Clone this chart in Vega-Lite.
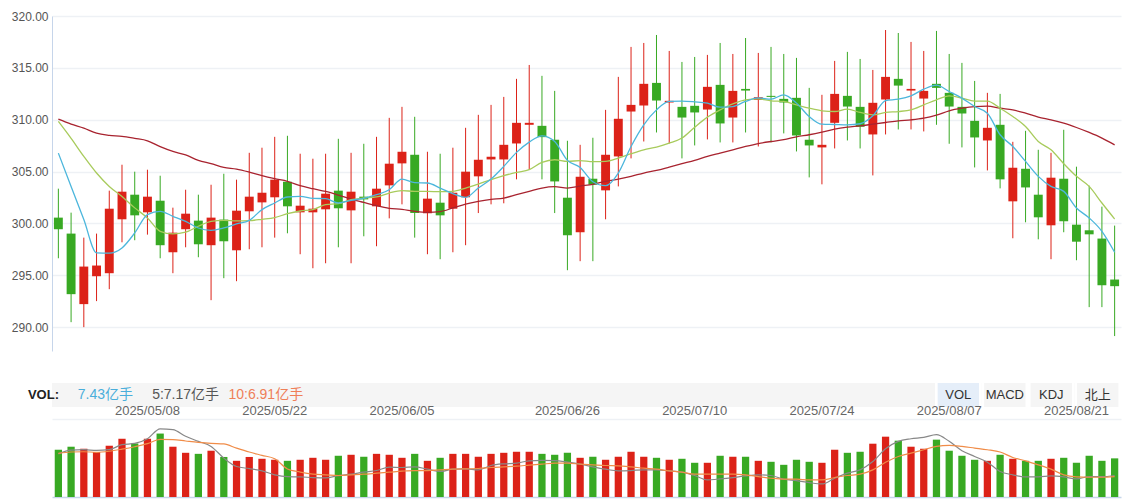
{
"$schema": "https://vega.github.io/schema/vega-lite/v6.json",
"background": "white",
"padding": {"left": 11, "top": 10, "right": 5, "bottom": 2},
"bounds": "flush",
"spacing": 32,
"config": {"view": {"stroke": null}, "font": "Liberation Sans, Noto Sans CJK SC, sans-serif"},
"datasets": {
"k": [
{"d":"2025/04/29","o":300.56,"c":299.44,"h":303.35,"l":296.64,"v":9.09,"m5":306.78,"m10":309.83,"m30":310.05,"v5":8.3,"v10":8.38},
{"d":"2025/04/30","o":299.02,"c":293.18,"h":301.04,"l":290.48,"v":9.67,"m5":303.57,"m10":308.2,"m30":309.57,"v5":9.0,"v10":8.65},
{"d":"2025/05/01","o":292.22,"c":295.84,"h":298.63,"l":290.0,"v":9.28,"m5":300.37,"m10":306.46,"m30":309.19,"v5":9.1,"v10":8.7},
{"d":"2025/05/02","o":294.91,"c":295.94,"h":299.02,"l":292.51,"v":8.65,"m5":297.16,"m10":304.86,"m30":308.7,"v5":8.96,"v10":8.6},
{"d":"2025/05/05","o":295.2,"c":301.42,"h":303.16,"l":293.66,"v":9.86,"m5":297.13,"m10":303.57,"m30":308.5,"v5":9.1,"v10":8.8},
{"d":"2025/05/06","o":300.4,"c":303.06,"h":305.66,"l":298.18,"v":11.2,"m5":297.64,"m10":302.6,"m30":308.4,"v5":10.06,"v10":9.2},
{"d":"2025/05/07","o":302.77,"c":300.78,"h":304.99,"l":298.38,"v":10.3,"m5":299.08,"m10":301.5,"m30":308.2,"v5":10.3,"v10":9.67},
{"d":"2025/05/08","o":301.07,"c":302.58,"h":305.18,"l":298.92,"v":11.2,"m5":300.85,"m10":300.53,"m30":307.97,"v5":11.2,"v10":10.25},
{"d":"2025/05/09","o":302.19,"c":297.9,"h":304.6,"l":296.64,"v":12.2,"m5":301.17,"m10":299.24,"m30":307.4,"v5":13.1,"v10":11.1},
{"d":"2025/05/12","o":297.22,"c":299.11,"h":301.52,"l":295.2,"v":9.67,"m5":300.69,"m10":298.99,"m30":306.94,"v5":12.96,"v10":11.05},
{"d":"2025/05/13","o":299.44,"c":300.94,"h":303.25,"l":297.7,"v":8.5,"m5":300.2,"m10":299.15,"m30":306.6,"v5":11.67,"v10":10.77},
{"d":"2025/05/14","o":300.27,"c":297.99,"h":302.77,"l":296.74,"v":8.3,"m5":299.56,"m10":299.73,"m30":306.08,"v5":10.7,"v10":10.5},
{"d":"2025/05/15","o":297.9,"c":300.56,"h":303.73,"l":292.6,"v":8.9,"m5":299.34,"m10":300.2,"m30":305.76,"v5":9.73,"v10":10.3},
{"d":"2025/05/16","o":300.37,"c":298.28,"h":304.79,"l":294.72,"v":7.7,"m5":299.56,"m10":300.3,"m30":305.4,"v5":7.48,"v10":10.2},
{"d":"2025/05/19","o":297.41,"c":301.23,"h":304.22,"l":294.43,"v":6.96,"m5":299.95,"m10":300.24,"m30":305.24,"v5":5.86,"v10":9.4},
{"d":"2025/05/20","o":301.17,"c":302.58,"h":306.81,"l":297.51,"v":7.7,"m5":300.3,"m10":300.27,"m30":304.95,"v5":5.47,"v10":8.65},
{"d":"2025/05/21","o":302.03,"c":302.96,"h":307.3,"l":297.7,"v":7.35,"m5":301.33,"m10":300.4,"m30":304.6,"v5":5.03,"v10":8.0},
{"d":"2025/05/22","o":302.52,"c":304.22,"h":308.35,"l":298.63,"v":7.16,"m5":301.97,"m10":300.56,"m30":304.31,"v5":4.26,"v10":7.35},
{"d":"2025/05/23","o":304.02,"c":301.65,"h":308.45,"l":299.05,"v":6.96,"m5":302.55,"m10":300.94,"m30":304.06,"v5":3.9,"v10":5.4},
{"d":"2025/05/26","o":301.07,"c":301.71,"h":306.72,"l":297.03,"v":7.16,"m5":302.61,"m10":301.2,"m30":303.64,"v5":3.87,"v10":4.8},
{"d":"2025/05/27","o":301.07,"c":301.42,"h":306.24,"l":295.68,"v":7.54,"m5":302.42,"m10":301.33,"m30":303.35,"v5":3.74,"v10":4.39},
{"d":"2025/05/28","o":301.36,"c":302.87,"h":306.72,"l":296.16,"v":7.16,"m5":302.39,"m10":301.81,"m30":303.09,"v5":3.68,"v10":4.26},
{"d":"2025/05/29","o":303.16,"c":301.46,"h":308.16,"l":297.7,"v":7.93,"m5":301.97,"m10":301.91,"m30":302.74,"v5":4.1,"v10":4.13},
{"d":"2025/05/30","o":301.26,"c":303.06,"h":306.81,"l":296.16,"v":8.12,"m5":302.23,"m10":302.29,"m30":302.35,"v5":4.39,"v10":4.26},
{"d":"2025/06/02","o":302.58,"c":302.32,"h":307.68,"l":298.76,"v":7.74,"m5":302.42,"m10":302.45,"m30":302.03,"v5":4.77,"v10":4.39},
{"d":"2025/06/03","o":301.65,"c":303.35,"h":308.35,"l":297.8,"v":8.3,"m5":302.77,"m10":302.55,"m30":301.71,"v5":5.09,"v10":4.58},
{"d":"2025/06/04","o":303.67,"c":305.76,"h":310.18,"l":300.49,"v":8.12,"m5":303.25,"m10":302.93,"m30":301.46,"v5":5.74,"v10":4.77},
{"d":"2025/06/05","o":305.79,"c":306.91,"h":311.24,"l":301.84,"v":7.54,"m5":304.28,"m10":303.16,"m30":301.36,"v5":5.67,"v10":4.97},
{"d":"2025/06/06","o":306.62,"c":301.01,"h":310.28,"l":298.63,"v":8.3,"m5":303.93,"m10":303.09,"m30":301.17,"v5":5.8,"v10":5.09},
{"d":"2025/06/09","o":300.98,"c":302.39,"h":306.91,"l":297.03,"v":6.96,"m5":303.9,"m10":303.09,"m30":301.07,"v5":5.35,"v10":5.09},
{"d":"2025/06/10","o":302.0,"c":300.78,"h":306.72,"l":296.55,"v":7.54,"m5":303.41,"m10":303.06,"m30":301.14,"v5":4.9,"v10":5.22},
{"d":"2025/06/11","o":301.42,"c":302.96,"h":307.3,"l":297.22,"v":8.3,"m5":302.87,"m10":303.09,"m30":301.49,"v5":5.35,"v10":5.35},
{"d":"2025/06/12","o":302.52,"c":304.99,"h":309.22,"l":297.9,"v":8.3,"m5":302.52,"m10":303.41,"m30":301.87,"v5":5.42,"v10":5.42},
{"d":"2025/06/13","o":304.54,"c":306.14,"h":310.47,"l":301.0,"v":7.74,"m5":303.41,"m10":303.8,"m30":302.13,"v5":5.22,"v10":5.48},
{"d":"2025/06/16","o":306.17,"c":306.43,"h":311.43,"l":301.84,"v":8.3,"m5":304.28,"m10":304.22,"m30":302.32,"v5":6.06,"v10":5.67},
{"d":"2025/06/17","o":306.17,"c":307.58,"h":312.2,"l":301.94,"v":8.5,"m5":305.5,"m10":304.6,"m30":302.45,"v5":6.38,"v10":5.8},
{"d":"2025/06/18","o":307.71,"c":309.7,"h":313.94,"l":304.25,"v":8.7,"m5":306.85,"m10":304.92,"m30":302.77,"v5":6.5,"v10":5.93},
{"d":"2025/06/23","o":309.51,"c":309.7,"h":315.28,"l":305.18,"v":8.7,"m5":307.84,"m10":305.18,"m30":303.09,"v5":6.96,"v10":6.13},
{"d":"2025/06/24","o":309.41,"c":308.32,"h":314.23,"l":304.25,"v":8.3,"m5":308.45,"m10":305.88,"m30":303.41,"v5":7.03,"v10":6.32},
{"d":"2025/06/25","o":308.07,"c":304.05,"h":312.78,"l":301.0,"v":8.12,"m5":307.9,"m10":306.14,"m30":303.54,"v5":7.0,"v10":6.5},
{"d":"2025/06/26","o":302.48,"c":298.86,"h":307.97,"l":295.49,"v":8.5,"m5":306.08,"m10":305.98,"m30":303.41,"v5":6.7,"v10":6.5},
{"d":"2025/06/27","o":299.15,"c":304.5,"h":307.58,"l":296.36,"v":7.54,"m5":305.4,"m10":306.06,"m30":303.6,"v5":6.32,"v10":6.32},
{"d":"2025/06/30","o":304.31,"c":303.73,"h":308.26,"l":296.36,"v":7.74,"m5":304.02,"m10":305.95,"m30":303.77,"v5":5.8,"v10":6.19},
{"d":"2025/07/01","o":303.19,"c":306.62,"h":310.95,"l":300.4,"v":7.16,"m5":303.64,"m10":305.98,"m30":304.06,"v5":5.35,"v10":6.06},
{"d":"2025/07/02","o":306.46,"c":310.09,"h":314.13,"l":303.57,"v":7.74,"m5":304.86,"m10":306.3,"m30":304.28,"v5":5.03,"v10":6.0},
{"d":"2025/07/03","o":310.79,"c":311.43,"h":317.02,"l":306.27,"v":8.7,"m5":307.42,"m10":306.72,"m30":304.54,"v5":5.09,"v10":5.8},
{"d":"2025/07/04","o":311.37,"c":313.46,"h":317.4,"l":307.9,"v":7.74,"m5":309.51,"m10":307.1,"m30":304.86,"v5":5.22,"v10":5.55},
{"d":"2025/07/07","o":313.55,"c":311.85,"h":318.17,"l":308.77,"v":7.54,"m5":310.95,"m10":307.36,"m30":305.11,"v5":5.22,"v10":5.35},
{"d":"2025/07/08","o":311.66,"c":311.82,"h":316.63,"l":307.71,"v":7.16,"m5":311.76,"m10":307.74,"m30":305.43,"v5":5.03,"v10":5.03},
{"d":"2025/07/09","o":311.24,"c":310.21,"h":315.57,"l":306.27,"v":7.35,"m5":311.79,"m10":308.23,"m30":305.76,"v5":4.77,"v10":4.77},
{"d":"2025/07/10","o":311.34,"c":310.7,"h":316.05,"l":307.52,"v":6.58,"m5":311.72,"m10":309.28,"m30":306.08,"v5":4.13,"v10":4.39},
{"d":"2025/07/11","o":310.98,"c":313.17,"h":316.25,"l":308.1,"v":6.58,"m5":311.6,"m10":310.25,"m30":306.46,"v5":3.29,"v10":4.39},
{"d":"2025/07/14","o":313.36,"c":309.64,"h":317.4,"l":307.81,"v":7.93,"m5":311.21,"m10":310.95,"m30":306.78,"v5":3.48,"v10":4.39},
{"d":"2025/07/15","o":310.21,"c":312.78,"h":316.34,"l":307.81,"v":7.74,"m5":311.27,"m10":311.53,"m30":307.1,"v5":3.74,"v10":4.39},
{"d":"2025/07/16","o":312.97,"c":312.81,"h":317.88,"l":308.77,"v":7.74,"m5":311.76,"m10":311.92,"m30":307.42,"v5":4.06,"v10":4.26},
{"d":"2025/07/17","o":311.91,"c":312.17,"h":316.44,"l":307.42,"v":6.96,"m5":312.1,"m10":312.0,"m30":307.7,"v5":4.26,"v10":3.93},
{"d":"2025/07/18","o":312.3,"c":312.2,"h":317.02,"l":307.81,"v":6.77,"m5":311.98,"m10":311.82,"m30":307.9,"v5":4.13,"v10":3.61},
{"d":"2025/07/21","o":312.01,"c":311.66,"h":316.34,"l":308.68,"v":6.19,"m5":312.4,"m10":311.76,"m30":308.07,"v5":3.42,"v10":3.42},
{"d":"2025/07/22","o":312.11,"c":308.48,"h":315.96,"l":306.94,"v":7.16,"m5":311.6,"m10":311.43,"m30":308.35,"v5":3.16,"v10":3.42},
{"d":"2025/07/23","o":308.07,"c":307.52,"h":313.07,"l":304.44,"v":6.77,"m5":310.31,"m10":311.11,"m30":308.55,"v5":2.77,"v10":3.29},
{"d":"2025/07/24","o":307.33,"c":307.58,"h":312.4,"l":303.77,"v":6.58,"m5":309.57,"m10":310.86,"m30":308.8,"v5":2.51,"v10":3.29},
{"d":"2025/07/25","o":309.7,"c":312.49,"h":315.67,"l":307.23,"v":9.09,"m5":309.54,"m10":310.79,"m30":309.09,"v5":3.61,"v10":3.74},
{"d":"2025/07/28","o":312.3,"c":311.27,"h":316.54,"l":308.0,"v":8.5,"m5":309.51,"m10":311.02,"m30":309.28,"v5":4.58,"v10":4.13},
{"d":"2025/07/29","o":311.24,"c":309.32,"h":315.86,"l":307.23,"v":8.7,"m5":309.61,"m10":310.7,"m30":309.41,"v5":5.22,"v10":4.39},
{"d":"2025/07/30","o":308.58,"c":311.63,"h":314.8,"l":304.63,"v":10.25,"m5":310.38,"m10":310.47,"m30":309.57,"v5":6.83,"v10":5.22},
{"d":"2025/07/31","o":311.95,"c":314.13,"h":318.65,"l":308.58,"v":11.6,"m5":311.85,"m10":310.7,"m30":309.73,"v5":9.28,"v10":6.7},
{"d":"2025/08/01","o":313.94,"c":313.29,"h":318.36,"l":309.06,"v":10.83,"m5":311.98,"m10":310.79,"m30":309.89,"v5":10.7,"v10":7.8},
{"d":"2025/08/04","o":312.81,"c":312.97,"h":317.5,"l":309.06,"v":9.67,"m5":312.3,"m10":310.95,"m30":309.99,"v5":11.2,"v10":8.45},
{"d":"2025/08/05","o":312.04,"c":312.78,"h":316.63,"l":308.87,"v":9.28,"m5":312.94,"m10":311.43,"m30":310.15,"v5":11.47,"v10":9.09},
{"d":"2025/08/06","o":313.46,"c":313.07,"h":318.56,"l":309.51,"v":11.03,"m5":313.33,"m10":311.92,"m30":310.44,"v5":12.0,"v10":9.73},
{"d":"2025/08/07","o":312.59,"c":311.27,"h":316.34,"l":307.68,"v":8.9,"m5":312.72,"m10":312.3,"m30":310.86,"v5":10.7,"v10":9.93},
{"d":"2025/08/08","o":311.24,"c":310.6,"h":315.48,"l":307.33,"v":7.93,"m5":312.08,"m10":312.08,"m30":311.11,"v5":8.9,"v10":9.73},
{"d":"2025/08/11","o":309.89,"c":308.29,"h":313.74,"l":305.4,"v":7.16,"m5":311.27,"m10":311.79,"m30":311.27,"v5":7.8,"v10":9.41},
{"d":"2025/08/12","o":308.0,"c":309.22,"h":312.59,"l":305.11,"v":6.96,"m5":310.63,"m10":311.79,"m30":311.31,"v5":6.7,"v10":9.09},
{"d":"2025/08/13","o":309.51,"c":304.25,"h":312.49,"l":303.38,"v":8.12,"m5":308.55,"m10":311.11,"m30":311.11,"v5":4.9,"v10":8.65},
{"d":"2025/08/14","o":302.13,"c":305.37,"h":307.87,"l":298.57,"v":7.35,"m5":307.42,"m10":310.31,"m30":310.95,"v5":4.26,"v10":7.6},
{"d":"2025/08/15","o":305.27,"c":303.47,"h":308.93,"l":300.11,"v":6.96,"m5":305.98,"m10":309.35,"m30":310.63,"v5":3.87,"v10":6.96},
{"d":"2025/08/18","o":302.77,"c":300.59,"h":307.1,"l":298.47,"v":6.96,"m5":304.54,"m10":307.9,"m30":310.25,"v5":3.87,"v10":6.19},
{"d":"2025/08/19","o":299.82,"c":304.41,"h":306.81,"l":296.55,"v":7.35,"m5":303.57,"m10":307.1,"m30":309.99,"v5":4.06,"v10":5.35},
{"d":"2025/08/20","o":304.31,"c":300.21,"h":309.03,"l":299.15,"v":7.54,"m5":303.09,"m10":305.76,"m30":309.67,"v5":3.87,"v10":4.26},
{"d":"2025/08/21","o":299.88,"c":298.24,"h":305.47,"l":296.45,"v":6.58,"m5":301.49,"m10":304.54,"m30":309.25,"v5":3.48,"v10":3.87},
{"d":"2025/08/22","o":299.34,"c":298.95,"h":303.64,"l":291.93,"v":7.93,"m5":300.53,"m10":303.57,"m30":308.77,"v5":3.93,"v10":3.8},
{"d":"2025/08/25","o":298.54,"c":294.04,"h":301.62,"l":291.93,"v":6.96,"m5":299.24,"m10":301.97,"m30":308.23,"v5":3.9,"v10":3.8},
{"d":"2025/08/26","o":294.59,"c":293.95,"h":299.79,"l":289.14,"v":7.43,"m5":297.22,"m10":300.43,"m30":307.58,"v5":4.13,"v10":3.93}
],
"hdr": [
{"t":"7.43亿手","k":"cur"},
{"t":"5:7.17亿手","k":"ma5"},
{"t":"10:6.91亿手","k":"ma10"}
],
"btn": [
{"b":"VOL","s":"on"},
{"b":"MACD","s":"off"},
{"b":"KDJ","s":"off"},
{"b":"北上","s":"off"}
]
},
"vconcat": [
{
"width": 1069, "height": 335,
"data": {"name": "k"},
"encoding": {"x": {"field": "d", "type": "ordinal", "scale": {"paddingInner": 0, "paddingOuter": 0}, "axis": null}},
"layer": [
{"mark": {"type": "rule", "strokeWidth": 1},
 "encoding": {
  "y": {"field": "l", "type": "quantitative", "scale": {"domain": [287.7, 320], "nice": false, "zero": false},
        "axis": {"values": [290, 295, 300, 305, 310, 315, 320], "format": ".2f", "title": null, "ticks": false, "tickSize": 0, "domain": true, "domainColor": "#c6d5ea", "domainWidth": 1, "labelColor": "#555555", "labelFontSize": 12, "labelPadding": 4, "grid": true, "gridColor": "#eef1f5", "gridWidth": 1.5}},
  "y2": {"field": "h"},
  "color": {"condition": {"test": "datum.c >= datum.o", "value": "#dc2218"}, "value": "#38a923"}}},
{"mark": {"type": "bar", "width": {"band": 0.7}},
 "encoding": {
  "y": {"field": "o", "type": "quantitative"},
  "y2": {"field": "c"},
  "color": {"condition": {"test": "datum.c >= datum.o", "value": "#dc2218"}, "value": "#38a923"}}},
{"mark": {"type": "line", "interpolate": "monotone", "strokeWidth": 1.3, "color": "#a8232f"},
 "encoding": {"y": {"field": "m30", "type": "quantitative"}}},
{"mark": {"type": "line", "interpolate": "monotone", "strokeWidth": 1.3, "color": "#a8cb5c"},
 "encoding": {"y": {"field": "m10", "type": "quantitative"}}},
{"mark": {"type": "line", "interpolate": "monotone", "strokeWidth": 1.3, "color": "#4cb6dc"},
 "encoding": {"y": {"field": "m5", "type": "quantitative"}}}
]
},
{
"bounds": "flush",
"spacing": 12,
"vconcat": [
{
"width": 1069, "height": 24,
"view": {"fill": "#f5f5f5", "stroke": null},
"title": {"text": "VOL:", "orient": "left", "angle": 0, "align": "left", "baseline": "middle", "anchor": "middle", "offset": -7, "fontSize": 13, "fontWeight": "bold", "color": "#222222"},
"layer": [
{"data": {"name": "btn"}, "mark": {"type": "rect", "color": "white"},
 "encoding": {"x": {"field": "b", "type": "nominal", "axis": null, "scale": {"domain": ["b0","b1","b2","b3","b4","b5","b6","b7","b8","b9","b10","b11","b12","b13","b14","b15","b16","b17","b18","VOL","MACD","KDJ","北上"], "paddingInner": 0, "paddingOuter": 0}}}},
{"data": {"name": "btn"}, "mark": {"type": "rect", "width": {"band": 0.89}},
 "encoding": {"x": {"field": "b", "type": "nominal", "axis": null, "scale": {"domain": ["b0","b1","b2","b3","b4","b5","b6","b7","b8","b9","b10","b11","b12","b13","b14","b15","b16","b17","b18","VOL","MACD","KDJ","北上"], "paddingInner": 0, "paddingOuter": 0}},
  "color": {"field": "s", "type": "nominal", "scale": {"domain": ["on", "off"], "range": ["#e5eef9", "#f5f5f5"]}, "legend": null}}},
{"data": {"name": "btn"}, "mark": {"type": "text", "fontSize": 13, "color": "#333333"},
 "encoding": {"x": {"field": "b", "type": "nominal", "axis": null, "scale": {"domain": ["b0","b1","b2","b3","b4","b5","b6","b7","b8","b9","b10","b11","b12","b13","b14","b15","b16","b17","b18","VOL","MACD","KDJ","北上"], "paddingInner": 0, "paddingOuter": 0}},
  "text": {"field": "b"}}},
{"data": {"name": "hdr"}, "mark": {"type": "text", "fontSize": 14, "align": "center"},
 "encoding": {"x": {"field": "t", "type": "nominal", "axis": null, "scale": {"type": "point", "padding": 0, "domain": ["h0","h1","7.43亿手","h3","h4","5:7.17亿手","h6","h7","10:6.91亿手","h9","h10","h11","h12","h13","h14","h15","h16","h17","h18","h19","h20","h21","h22","h23","h24","h25","h26","h27","h28","h29","h30","h31","h32","h33","h34","h35","h36","h37","h38","h39","h40"]}},
  "text": {"field": "t"},
  "color": {"field": "k", "type": "nominal", "scale": {"domain": ["cur", "ma5", "ma10"], "range": ["#4aaedb", "#555555", "#ef7f58"]}, "legend": null}}}
],
"resolve": {"scale": {"x": "independent", "color": "independent"}}
},
{
"width": 1069, "height": 78,
"data": {"name": "k"},
"encoding": {"x": {"field": "d", "type": "ordinal", "scale": {"paddingInner": 0, "paddingOuter": 0},
  "axis": {"orient": "top", "values": ["2025/05/08","2025/05/22","2025/06/05","2025/06/26","2025/07/10","2025/07/24","2025/08/07","2025/08/21"], "labelAngle": 0, "ticks": false, "tickSize": 0, "domain": false, "grid": false, "labelPadding": 2, "labelColor": "#666666", "labelFontSize": 13, "title": null}}},
"layer": [
{"mark": {"type": "bar", "width": {"band": 0.57}},
 "encoding": {
  "y": {"field": "v", "type": "quantitative", "scale": {"domain": [0, 15], "nice": false},
        "axis": {"values": [0, 3, 6, 9, 12, 15], "labels": false, "ticks": false, "domain": false, "title": null, "grid": true, "gridWidth": 1.5, "gridColor": {"condition": {"test": "datum.value === 0", "value": "#c6d5ea"}, "value": "#eef1f5"}}},
  "color": {"condition": {"test": "datum.c >= datum.o", "value": "#dc2218"}, "value": "#38a923"}}},
{"mark": {"type": "line", "interpolate": "monotone", "strokeWidth": 1.2, "color": "#888888"},
 "encoding": {"y": {"field": "v5", "type": "quantitative"}}},
{"mark": {"type": "line", "interpolate": "monotone", "strokeWidth": 1.2, "color": "#f08c48"},
 "encoding": {"y": {"field": "v10", "type": "quantitative"}}}
]
}
]
}
]
}
